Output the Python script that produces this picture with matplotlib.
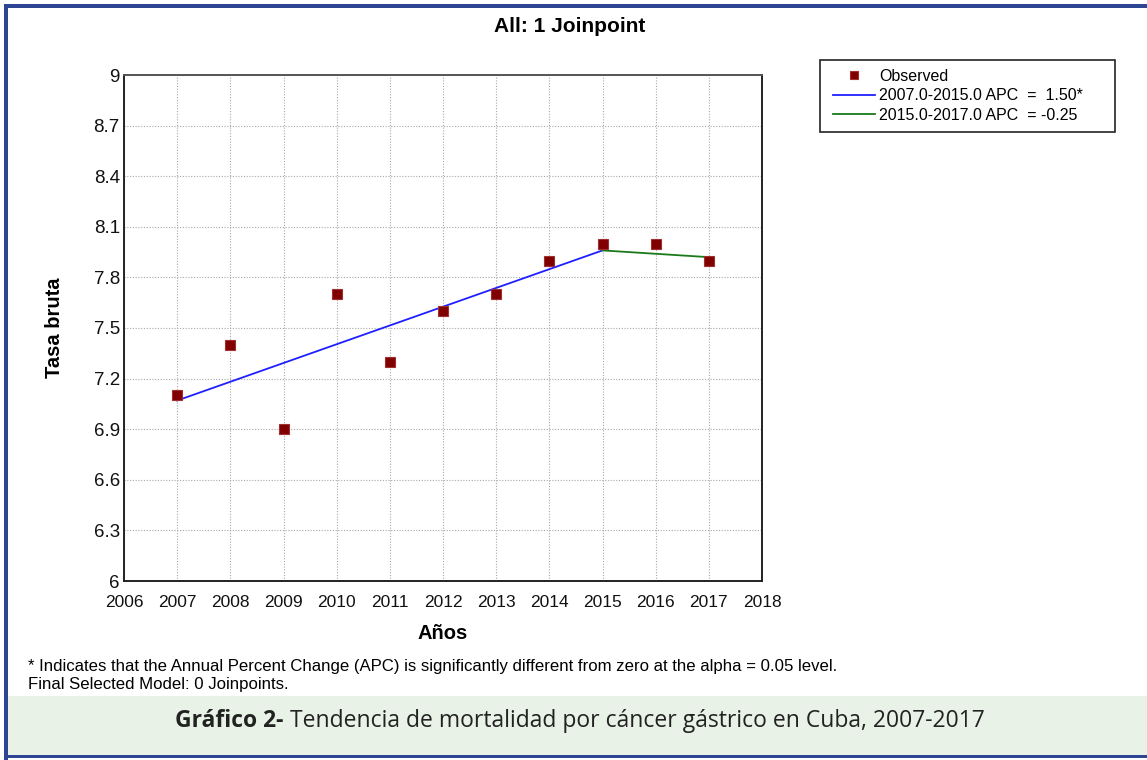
import matplotlib.pyplot as plt
import matplotlib.patches as patches
import numpy as np

W, H = 1147, 760

# observed data
anios = [2007, 2008, 2009, 2010, 2011, 2012, 2013, 2014, 2015, 2016, 2017]
tasa = [7.1, 7.4, 6.9, 7.7, 7.3, 7.6, 7.7, 7.9, 8.0, 8.0, 7.9]

# fitted joinpoint segments
seg1_x = [2007, 2015]
seg1_y = [7.07, 7.96]
seg2_x = [2015, 2017]
seg2_y = [7.96, 7.92]

xticks = list(range(2006, 2019))
yticks = [6, 6.3, 6.6, 6.9, 7.2, 7.5, 7.8, 8.1, 8.4, 8.7, 9]
ytick_labels = ["6", "6.3", "6.6", "6.9", "7.2", "7.5", "7.8", "8.1", "8.4", "8.7", "9"]

plt.rcParams["font.family"] = ["Liberation Sans", "DejaVu Sans"]

fig = plt.figure(figsize=(W / 100, H / 100), dpi=100)


def px(x0, y0, w, h):
    # pixel box (top-left origin) -> figure fraction
    return [x0 / W, 1 - (y0 + h) / H, w / W, h / H]


# frame, caption band and legend box
bg = fig.add_axes([0, 0, 1, 1])
bg.set_xlim(0, W)
bg.set_ylim(H, 0)
bg.axis("off")
bg.add_patch(patches.Rectangle((8, 696), W - 8, 59, color="#e8f2e6", lw=0))
bg.add_patch(patches.Rectangle((4, 4), W, 4, color="#2e4593", lw=0))
bg.add_patch(patches.Rectangle((4, 4), 4, H - 4, color="#2e4593", lw=0))
bg.add_patch(patches.Rectangle((4, 755), W, 3, color="#2e4593", lw=0))
bg.add_patch(patches.Rectangle((820, 60), 295, 72, fill=False, ec="#222222", lw=1.2))

ax = fig.add_axes(px(124, 75, 638, 506))
ax.plot(anios, tasa, "s", color="#800000", markersize=7, markeredgecolor="#a03030",
        markeredgewidth=0.8, label="Observed", zorder=5)
ax.plot(seg1_x, seg1_y, color="#1f1fff", lw=1.3, label="2007.0-2015.0 APC  =  1.50*", zorder=4)
ax.plot(seg2_x, seg2_y, color="#1a7a1a", lw=1.3, label="2015.0-2017.0 APC  = -0.25", zorder=4)

ax.set_xlim(2006, 2018)
ax.set_ylim(6, 9)
ax.set_xticks(xticks)
ax.set_yticks(yticks)
ax.set_yticklabels(ytick_labels)
ax.tick_params(length=0, colors="#111111")
ax.tick_params(axis="x", labelsize=12.5, pad=10)
ax.tick_params(axis="y", labelsize=13.5, pad=3)
ax.grid(True, color="#a8a8a8", linestyle=(0, (1, 1.5)), lw=0.8)
for s in ax.spines.values():
    s.set_linewidth(1.4)
    s.set_color("#222222")
ax.spines["top"].set_color("#555555")

fig.text(570 / W, 1 - 27 / H, "All: 1 Joinpoint", fontsize=15, fontweight="bold",
         ha="center", va="center")
ax.set_xlabel("Años", fontsize=14.5, fontweight="bold", labelpad=10)
ax.set_ylabel("Tasa bruta", fontsize=14.5, fontweight="bold", labelpad=21)

leg = fig.legend(loc="upper left", bbox_to_anchor=(833 / W, 1 - 69 / H), fontsize=11.5,
                 frameon=False, labelspacing=0.28, handlelength=2.6,
                 handletextpad=0.3, borderaxespad=0, borderpad=0, markerscale=0.8)

fig.text(28 / W, 1 - 667 / H,
         "* Indicates that the Annual Percent Change (APC) is significantly different from zero at the alpha = 0.05 level.",
         fontsize=12.1, va="center", ha="left")
fig.text(28 / W, 1 - 684 / H, "Final Selected Model: 0 Joinpoints.",
         fontsize=12.1, va="center", ha="left")

t1 = fig.text(0, 0, "Gráfico 2-", fontsize=16.5, fontweight="bold", family="Open Sans",
              va="center", color="#222222")
t2 = fig.text(0, 0, " Tendencia de mortalidad por cáncer gástrico en Cuba, 2007-2017",
              fontsize=16.5, family="Open Sans", va="center", color="#222222")
fig.canvas.draw()
r = fig.canvas.get_renderer()
w1 = t1.get_window_extent(r).width
w2 = t2.get_window_extent(r).width
x0 = 580 - (w1 + w2) / 2
t1.set_position((x0 / W, 1 - 721 / H))
t2.set_position(((x0 + w1) / W, 1 - 721 / H))

fig.savefig("out.png", dpi=100)
